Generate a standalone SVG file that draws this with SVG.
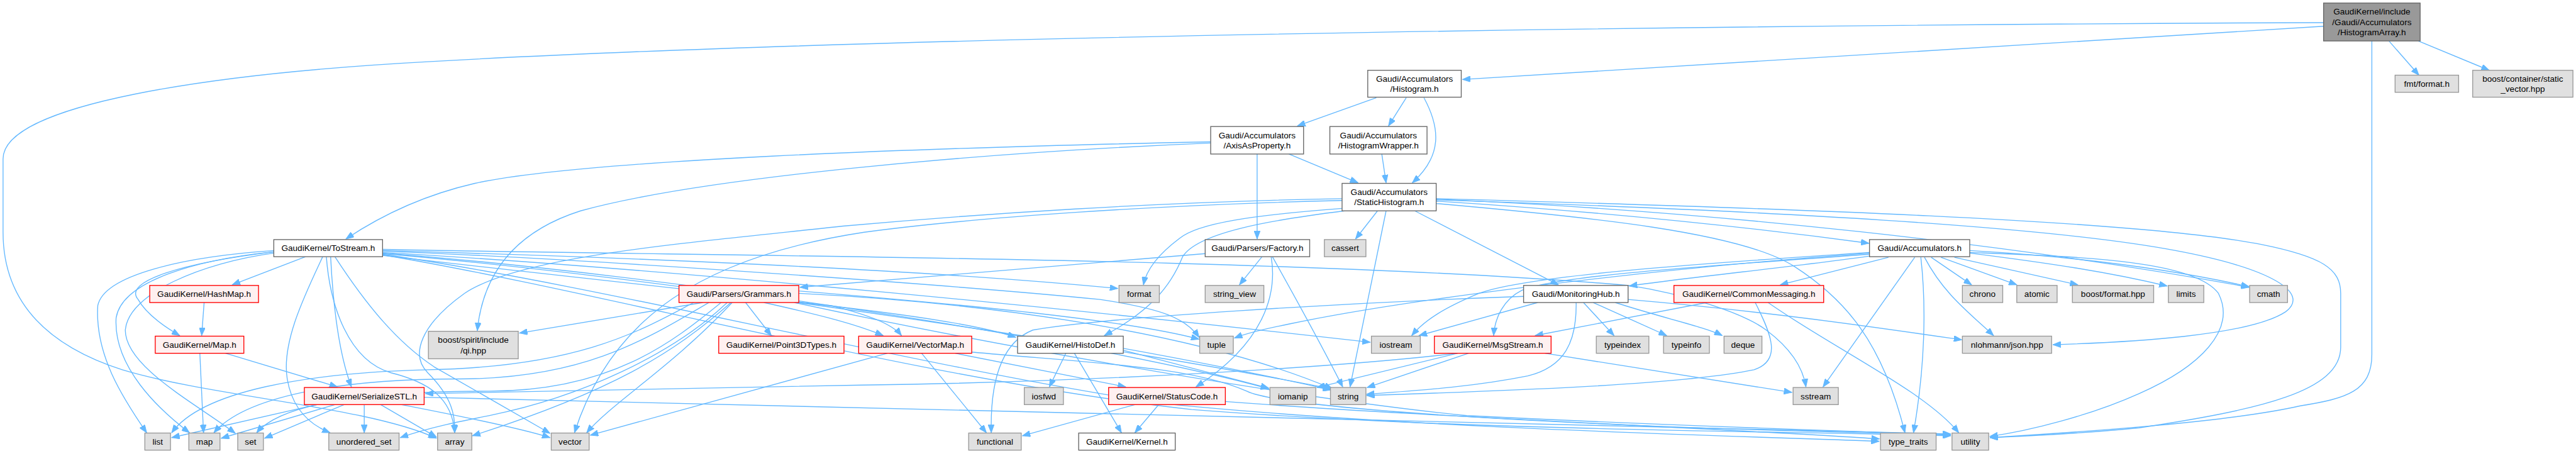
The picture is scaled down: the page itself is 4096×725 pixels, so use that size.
<svg xmlns="http://www.w3.org/2000/svg" width="4096" height="725" viewBox="0 0 4096 725">
<style>
.n rect{stroke-width:1.4}
.m rect{fill:#999999;stroke:#666666}
.w rect{fill:#ffffff;stroke:#666666}
.r rect{fill:#fff0f0;stroke:#ff0000}
.g rect{fill:#e0e0e0;stroke:#999999}
text{font-family:"Liberation Sans",Arial,sans-serif;font-size:14px;fill:#000000;text-anchor:middle}
#edges path{fill:none;stroke:#63b8ff;stroke-width:1.4;marker-end:url(#a)}
</style>
<defs>
<marker id="a" markerUnits="userSpaceOnUse" markerWidth="14" markerHeight="10" refX="13" refY="5" orient="auto"><path d="M0,0 L13,5 L0,10 z" fill="#63b8ff" stroke="#63b8ff" stroke-width="1"/></marker>
</defs>
<rect width="4096" height="725" fill="#ffffff"/>
<g transform="scale(0.97176)">
<g id="edges">
<path d="M3802,43 L2393,130"/>
<path d="M3909,67 L3958,123"/>
<path d="M3957,67 L4073,115"/>
<path d="M3881,67 V580 C3881,640 3840,652 3764,664 C3650,690 3420,706 3256,716"/>
<path d="M3802,37 C3000,40 1500,55 700,101 C350,120 5,170 5,260 L5,380 C5,480 60,560 200,605 C350,650 600,665 714,717"/>
<path d="M2252,160 L2123,206"/>
<path d="M2301,160 L2272,206"/>
<path d="M2330,160 C2357,210 2360,255 2311,299"/>
<path d="M2109,252 L2222,299"/>
<path d="M2057,252 L2057,391"/>
<path d="M1981,232 C1500,242 950,262 777,300 C690,320 620,355 566,391"/>
<path d="M1981,234 C1600,250 1150,290 950,345 C840,380 790,450 781,541"/>
<path d="M2261,252 L2268,299"/>
<path d="M2254,345 L2218,391"/>
<path d="M2268,345 L2209,633"/>
<path d="M2315,345 L2550,466"/>
<path d="M2196,341 C2050,352 1960,365 1930,390 C1890,420 1875,445 1871,466"/>
<path d="M2200,345 C2080,360 1960,380 1935,420 C1915,470 1880,510 1807,549"/>
<path d="M2196,328 C1900,335 1600,355 1414,380 C1150,420 1000,520 940,708"/>
<path d="M2196,325 C1900,330 1600,350 1379,370 C1100,400 850,420 760,480 C690,530 670,580 700,610 C740,650 745,680 744,708"/>
<path d="M2350,329 C2600,345 2850,370 3058,398"/>
<path d="M2350,333 C2600,355 2850,380 2936,436 C3020,490 3080,560 3117,708"/>
<path d="M2350,326 C2800,345 3300,400 3680,470"/>
<path d="M2350,327 C2900,345 3350,370 3560,410 C3720,440 3780,480 3740,510 C3680,550 3480,560 3359,564"/>
<path d="M2350,325 C2900,340 3500,360 3700,400 C3800,420 3830,440 3830,480 L3830,568 C3830,640 3700,670 3500,700 C3400,710 3300,714 3256,716"/>
<path d="M3059,419 C2950,435 2750,455 2666,468"/>
<path d="M3059,413 C2800,430 2500,450 2420,480 C2360,505 2330,525 2310,549"/>
<path d="M3059,414 C2700,440 2300,490 2110,530 C2070,538 2040,545 2020,553"/>
<path d="M3059,416 C2800,435 2550,450 2490,475 C2460,490 2446,520 2444,549"/>
<path d="M3090,421 L2913,466"/>
<path d="M3133,421 L2983,633"/>
<path d="M3143,421 C3152,500 3150,600 3131,708"/>
<path d="M3149,421 C3180,480 3220,510 3262,549"/>
<path d="M3160,421 L3226,466"/>
<path d="M3176,421 L3300,466"/>
<path d="M3198,421 L3400,466"/>
<path d="M3223,414 C3350,430 3450,445 3546,468"/>
<path d="M3223,410 C3400,420 3550,440 3680,469"/>
<path d="M3223,413 C3400,420 3590,425 3630,480 C3660,540 3600,600 3500,644 C3420,680 3320,705 3256,714"/>
<path d="M2493,485 C2200,495 1800,520 1690,540 C1640,560 1620,620 1622,708"/>
<path d="M2516,495 L2322,549"/>
<path d="M2579,495 C2580,560 2560,600 2500,615 C2400,635 2300,640 2236,645"/>
<path d="M2591,495 L2641,549"/>
<path d="M2607,495 L2727,549"/>
<path d="M2643,495 C2720,520 2790,535 2818,549"/>
<path d="M2664,490 C2900,510 3100,540 3210,556"/>
<path d="M2793,495 L2512,549"/>
<path d="M2872,495 C2900,550 2915,590 2870,605 C2750,630 2450,640 2236,647"/>
<path d="M2893,495 C3000,570 3150,640 3205,708"/>
<path d="M2385,578 L2155,634"/>
<path d="M2403,578 L2237,634"/>
<path d="M2528,578 L2932,642"/>
<path d="M2385,578 C2200,600 1800,625 1410,630 C1100,635 850,640 696,644"/>
<path d="M500,420 L380,466"/>
<path d="M448,412 C300,430 200,460 226,490 C240,515 270,535 294,549"/>
<path d="M448,410 C300,420 170,450 160,500 C155,580 200,650 240,708"/>
<path d="M448,412 C320,425 200,460 190,520 C185,600 260,670 310,708"/>
<path d="M448,414 C330,430 210,480 205,540 C205,600 320,660 385,709"/>
<path d="M528,420 C500,480 460,560 470,620 C480,680 520,700 540,708"/>
<path d="M541,420 C545,500 555,580 575,633"/>
<path d="M548,420 C600,500 650,560 710,600 C780,640 850,680 900,709"/>
<path d="M534,420 C540,500 570,590 640,610 C700,625 740,650 744,708"/>
<path d="M626,410 C1000,420 1500,440 1829,472"/>
<path d="M626,411 C1000,425 1600,470 1800,490 C1900,505 1940,520 1962,552"/>
<path d="M626,413 C1100,440 1800,510 2242,560"/>
<path d="M626,414 C1100,450 1800,560 2076,636"/>
<path d="M626,415 C1100,455 1900,580 2178,636"/>
<path d="M626,408 C1200,420 2100,420 2666,467 C2750,480 2850,510 2890,540 C2930,570 2950,600 2955,633"/>
<path d="M626,416 C1000,470 1500,600 1900,660 C2300,700 2800,712 3075,722"/>
<path d="M626,417 C1000,480 1500,620 1950,670 C2400,705 2900,705 3192,713"/>
<path d="M626,418 C900,450 1200,480 1360,500 C1420,515 1460,530 1475,549"/>
<path d="M1150,495 L850,545"/>
<path d="M1220,495 L1262,549"/>
<path d="M1250,495 C1340,515 1400,530 1445,549"/>
<path d="M1300,494 C1450,510 1600,530 1662,552"/>
<path d="M1135,495 C1050,540 950,600 700,605 C500,610 330,640 281,708"/>
<path d="M1160,495 C1050,560 950,620 750,620 C550,620 400,650 350,708"/>
<path d="M1180,495 C1100,560 1000,640 800,640 C600,640 460,660 420,708"/>
<path d="M1190,495 C1100,580 950,650 800,680 C750,690 700,700 655,716"/>
<path d="M1196,495 C1100,580 1000,640 773,713"/>
<path d="M1198,495 C1100,600 1000,660 960,708"/>
<path d="M1307,480 C1700,500 2000,560 2180,636"/>
<path d="M1307,476 C1600,500 1850,525 1962,555"/>
<path d="M1300,495 C1600,560 2100,650 2400,680 C2800,700 3050,705 3192,712"/>
<path d="M1972,415 L1309,470"/>
<path d="M2065,420 L2028,466"/>
<path d="M2080,420 C2090,480 2070,560 1957,633"/>
<path d="M2082,420 C2110,470 2160,560 2197,633"/>
<path d="M1508,578 L1614,708"/>
<path d="M1563,578 L1842,633"/>
<path d="M1452,578 L966,712"/>
<path d="M1590,576 C1800,595 1950,600 2040,640 C2100,670 2600,700 3192,711"/>
<path d="M1744,578 L1717,633"/>
<path d="M1758,578 L1835,708"/>
<path d="M1838,573 L2076,635"/>
<path d="M1838,570 C1950,590 2100,620 2178,638"/>
<path d="M1857,662 L1673,713"/>
<path d="M1896,662 L1857,708"/>
<path d="M2005,657 C2300,680 2800,700 3075,718"/>
<path d="M518,662 L281,716"/>
<path d="M548,662 L362,717"/>
<path d="M563,662 L433,717"/>
<path d="M596,662 L596,708"/>
<path d="M623,662 L714,715"/>
<path d="M657,662 C750,680 850,700 900,716"/>
<path d="M694,650 C1200,660 2000,680 3192,710"/>
<path d="M334,495 L330,549"/>
<path d="M327,578 L333,708"/>
<path d="M369,578 L552,633"/>
</g>
<g id="n0" class="n m"><rect x="3802" y="5" width="158" height="62"/><text x="3881" y="24">GaudiKernel/include</text><text x="3881" y="41">/Gaudi/Accumulators</text><text x="3881" y="58">/HistogramArray.h</text></g>
<g id="n1" class="n w"><rect x="2238" y="115" width="153" height="44"/><text x="2314.5" y="133.5">Gaudi/Accumulators</text><text x="2314.5" y="150.5">/Histogram.h</text></g>
<g id="n2" class="n w"><rect x="1981" y="207" width="152" height="45"/><text x="2057" y="226">Gaudi/Accumulators</text><text x="2057" y="243">/AxisAsProperty.h</text></g>
<g id="n3" class="n w"><rect x="2176" y="207" width="159" height="45"/><text x="2255.5" y="226">Gaudi/Accumulators</text><text x="2255.5" y="243">/HistogramWrapper.h</text></g>
<g id="n4" class="n w"><rect x="2196" y="300" width="154" height="45"/><text x="2273" y="319">Gaudi/Accumulators</text><text x="2273" y="336">/StaticHistogram.h</text></g>
<g id="n5" class="n w"><rect x="448" y="392" width="178" height="28"/><text x="537" y="411">GaudiKernel/ToStream.h</text></g>
<g id="n6" class="n w"><rect x="1972" y="392" width="171" height="28"/><text x="2057.5" y="411">Gaudi/Parsers/Factory.h</text></g>
<g id="n7" class="n w"><rect x="3059" y="392" width="164" height="28"/><text x="3141" y="411">Gaudi/Accumulators.h</text></g>
<g id="n8" class="n w"><rect x="2493" y="467" width="171" height="28"/><text x="2578.5" y="486">Gaudi/MonitoringHub.h</text></g>
<g id="n9" class="n w"><rect x="1665" y="550" width="173" height="28"/><text x="1751.5" y="569">GaudiKernel/HistoDef.h</text></g>
<g id="n10" class="n w"><rect x="1765" y="708.5" width="158" height="28"/><text x="1844" y="727.5">GaudiKernel/Kernel.h</text></g>
<g id="n11" class="n r"><rect x="245" y="467" width="178" height="28"/><text x="334" y="486">GaudiKernel/HashMap.h</text></g>
<g id="n12" class="n r"><rect x="254" y="550" width="145" height="28"/><text x="326.5" y="569">GaudiKernel/Map.h</text></g>
<g id="n13" class="n r"><rect x="498" y="634" width="196" height="28"/><text x="596" y="653">GaudiKernel/SerializeSTL.h</text></g>
<g id="n14" class="n r"><rect x="1111" y="467" width="196" height="28"/><text x="1209" y="486">Gaudi/Parsers/Grammars.h</text></g>
<g id="n15" class="n r"><rect x="1176" y="550" width="205" height="28"/><text x="1278.5" y="569">GaudiKernel/Point3DTypes.h</text></g>
<g id="n16" class="n r"><rect x="1405" y="550" width="185" height="28"/><text x="1497.5" y="569">GaudiKernel/VectorMap.h</text></g>
<g id="n17" class="n r"><rect x="1814" y="634" width="191" height="28"/><text x="1909.5" y="653">GaudiKernel/StatusCode.h</text></g>
<g id="n18" class="n r"><rect x="2347" y="550" width="191" height="28"/><text x="2442.5" y="569">GaudiKernel/MsgStream.h</text></g>
<g id="n19" class="n r"><rect x="2739" y="467" width="245" height="28"/><text x="2861.5" y="486">GaudiKernel/CommonMessaging.h</text></g>
<g id="n20" class="n g"><rect x="3919" y="123" width="104" height="28"/><text x="3971" y="142">fmt/format.h</text></g>
<g id="n21" class="n g"><rect x="4046" y="115" width="164" height="44"/><text x="4128" y="133.5">boost/container/static</text><text x="4128" y="150.5">_vector.hpp</text></g>
<g id="n22" class="n g"><rect x="2167" y="392" width="68" height="28"/><text x="2201" y="411">cassert</text></g>
<g id="n23" class="n g"><rect x="1831" y="467" width="66" height="28"/><text x="1864" y="486">format</text></g>
<g id="n24" class="n g"><rect x="1972" y="467" width="96" height="28"/><text x="2020" y="486">string_view</text></g>
<g id="n25" class="n g"><rect x="3211" y="467" width="66" height="28"/><text x="3244" y="486">chrono</text></g>
<g id="n26" class="n g"><rect x="3300" y="467" width="66" height="28"/><text x="3333" y="486">atomic</text></g>
<g id="n27" class="n g"><rect x="3391" y="467" width="133" height="28"/><text x="3457.5" y="486">boost/format.hpp</text></g>
<g id="n28" class="n g"><rect x="3548" y="467" width="58" height="28"/><text x="3577" y="486">limits</text></g>
<g id="n29" class="n g"><rect x="3681" y="467" width="62" height="28"/><text x="3712" y="486">cmath</text></g>
<g id="n30" class="n g"><rect x="701" y="542" width="147" height="45"/><text x="774.5" y="561">boost/spirit/include</text><text x="774.5" y="578">/qi.hpp</text></g>
<g id="n31" class="n g"><rect x="1963" y="550" width="55" height="28"/><text x="1990.5" y="569">tuple</text></g>
<g id="n32" class="n g"><rect x="2244" y="550" width="80" height="28"/><text x="2284" y="569">iostream</text></g>
<g id="n33" class="n g"><rect x="2612" y="550" width="86" height="28"/><text x="2655" y="569">typeindex</text></g>
<g id="n34" class="n g"><rect x="2722" y="550" width="75" height="28"/><text x="2759.5" y="569">typeinfo</text></g>
<g id="n35" class="n g"><rect x="2821" y="550" width="62" height="28"/><text x="2852" y="569">deque</text></g>
<g id="n36" class="n g"><rect x="3211" y="550" width="146" height="28"/><text x="3284" y="569">nlohmann/json.hpp</text></g>
<g id="n37" class="n g"><rect x="1676" y="634" width="64" height="28"/><text x="1708" y="653">iosfwd</text></g>
<g id="n38" class="n g"><rect x="2078" y="634" width="75" height="28"/><text x="2115.5" y="653">iomanip</text></g>
<g id="n39" class="n g"><rect x="2177" y="634" width="58" height="28"/><text x="2206" y="653">string</text></g>
<g id="n40" class="n g"><rect x="2934" y="634" width="74" height="28"/><text x="2971" y="653">sstream</text></g>
<g id="n41" class="n g"><rect x="237" y="708.5" width="42" height="28"/><text x="258" y="727.5">list</text></g>
<g id="n42" class="n g"><rect x="309" y="708.5" width="51" height="28"/><text x="334.5" y="727.5">map</text></g>
<g id="n43" class="n g"><rect x="389" y="708.5" width="42" height="28"/><text x="410" y="727.5">set</text></g>
<g id="n44" class="n g"><rect x="538" y="708.5" width="115" height="28"/><text x="595.5" y="727.5">unordered_set</text></g>
<g id="n45" class="n g"><rect x="716" y="708.5" width="56" height="28"/><text x="744" y="727.5">array</text></g>
<g id="n46" class="n g"><rect x="902" y="708.5" width="62" height="28"/><text x="933" y="727.5">vector</text></g>
<g id="n47" class="n g"><rect x="1585" y="708.5" width="86" height="28"/><text x="1628" y="727.5">functional</text></g>
<g id="n48" class="n g"><rect x="3077" y="708.5" width="91" height="28"/><text x="3122.5" y="727.5">type_traits</text></g>
<g id="n49" class="n g"><rect x="3194" y="708.5" width="60" height="28"/><text x="3224" y="727.5">utility</text></g>
</g>
</svg>
